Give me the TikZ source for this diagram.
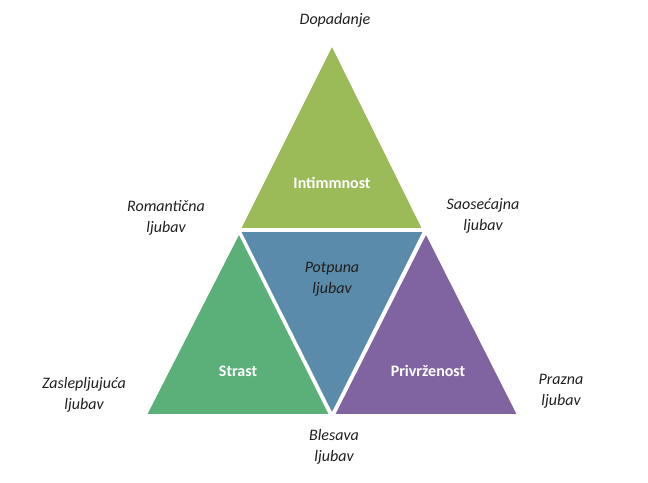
\documentclass[tikz,border=0pt]{standalone}
\usepackage{fontspec}
\setmainfont{Carlito}
\definecolor{topgreen}{HTML}{9BBB59}
\definecolor{midblue}{HTML}{5B8BAA}
\definecolor{leftgreen}{HTML}{5BB07A}
\definecolor{rpurple}{HTML}{8064A2}
\definecolor{txt}{HTML}{1F1F1F}
\begin{document}
\begin{tikzpicture}[x=1pt,y=-1pt,
  tri/.style={draw=white,line width=1.6pt,line join=miter},
  lbl/.style={font=\fontsize{16}{21}\selectfont\itshape,text=txt,align=center,inner sep=0pt},
  core/.style={font=\fontsize{16}{19}\selectfont\bfseries,text=white,align=center,inner sep=0pt}]
\useasboundingbox (0,0) rectangle (648,482);
% triangles
\fill[topgreen,tri] (332,45) -- (423,229) -- (240,229) -- cycle;
\fill[midblue,tri] (240,231) -- (424,231) -- (332,414) -- cycle;
\fill[leftgreen,tri] (239,233) -- (330,415) -- (146,415) -- cycle;
\fill[rpurple,tri] (426,233) -- (518,415) -- (334,415) -- cycle;
% core labels
\node[core] (intim) at (332,183) {Intimmnost};
\node[core] (strast) at (238,371) {Strast};
\node[core] (privr) at (428,371) {Privrženost};
\node[lbl] (potp) at (332,279) {Potpuna\\ljubav};
% outer labels
\node[lbl] (dop) at (335,20) {Dopadanje};
\node[lbl] (rom) at (166,218) {Romantična\\ljubav};
\node[lbl] (sao) at (483,216) {Saosećajna\\ljubav};
\node[lbl] (zas) at (84,395) {Zaslepljujuća\\ljubav};
\node[lbl] (praz) at (561,391) {Prazna\\ljubav};
\node[lbl] (bles) at (334,447) {Blesava\\ljubav};
\end{tikzpicture}
\end{document}
